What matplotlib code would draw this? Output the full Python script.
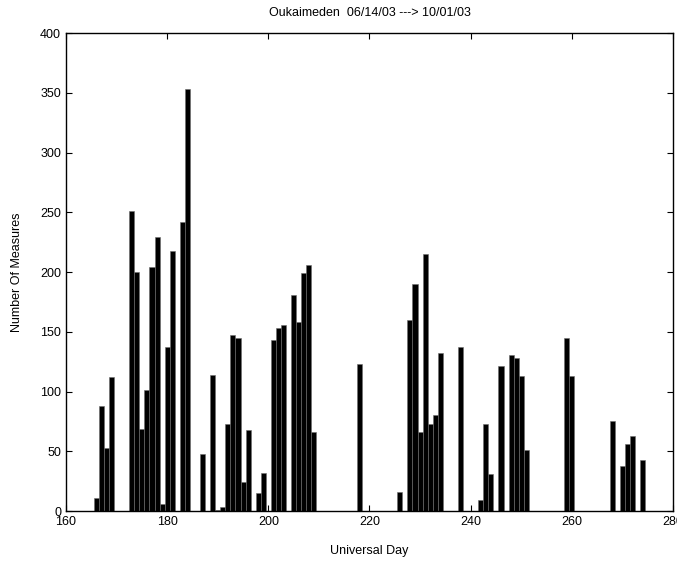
import matplotlib
matplotlib.use('Agg')
import matplotlib.pyplot as plt

# universal day and number of measures per day
days = [166, 167, 168, 169, 173, 174, 175, 176, 177, 178, 179, 180, 181,
        183, 184, 187, 189, 190, 191, 192, 193, 194, 195, 196, 198, 199,
        201, 202, 203, 205, 206, 207, 208, 209, 218, 226, 228, 229, 230,
        231, 232, 233, 234, 238, 242, 243, 244, 246, 248, 249, 250, 251,
        259, 260, 268, 270, 271, 272, 274]
measures = [11, 88, 53, 112, 251, 200, 69, 101, 204, 229, 6, 137, 218,
            242, 353, 48, 114, 1, 3, 73, 147, 145, 24, 68, 15, 32,
            143, 153, 156, 181, 158, 199, 206, 66, 123, 16, 160, 190, 66,
            215, 73, 80, 132, 137, 9, 73, 31, 121, 131, 128, 113, 51,
            145, 113, 75, 38, 56, 63, 43]

plt.rcParams['font.family'] = ['Liberation Sans', 'DejaVu Sans']

fig = plt.figure(figsize=(6.77, 5.61), dpi=100)
ax = fig.add_axes([0.0975, 0.089, 0.8965, 0.852])

ax.bar(days, measures, width=1.0, color='black', edgecolor='#6e6e6e', linewidth=0.4)

ax.set_xlim(160, 280)
ax.set_ylim(0, 400)
ax.set_xticks(range(160, 281, 20))
ax.set_yticks(range(0, 401, 50))
ax.tick_params(direction='in', length=4, width=0.8, top=True, right=True, labelsize=9)
for s in ax.spines.values():
    s.set_linewidth(1.0)

ax.set_xlabel('Universal Day', fontsize=9, labelpad=12)
ax.set_ylabel('Number Of Measures', fontsize=9, labelpad=12)
ax.set_title('Oukaimeden  06/14/03 ---> 10/01/03', fontsize=9, pad=12)

fig.savefig('out.png', dpi=100)
